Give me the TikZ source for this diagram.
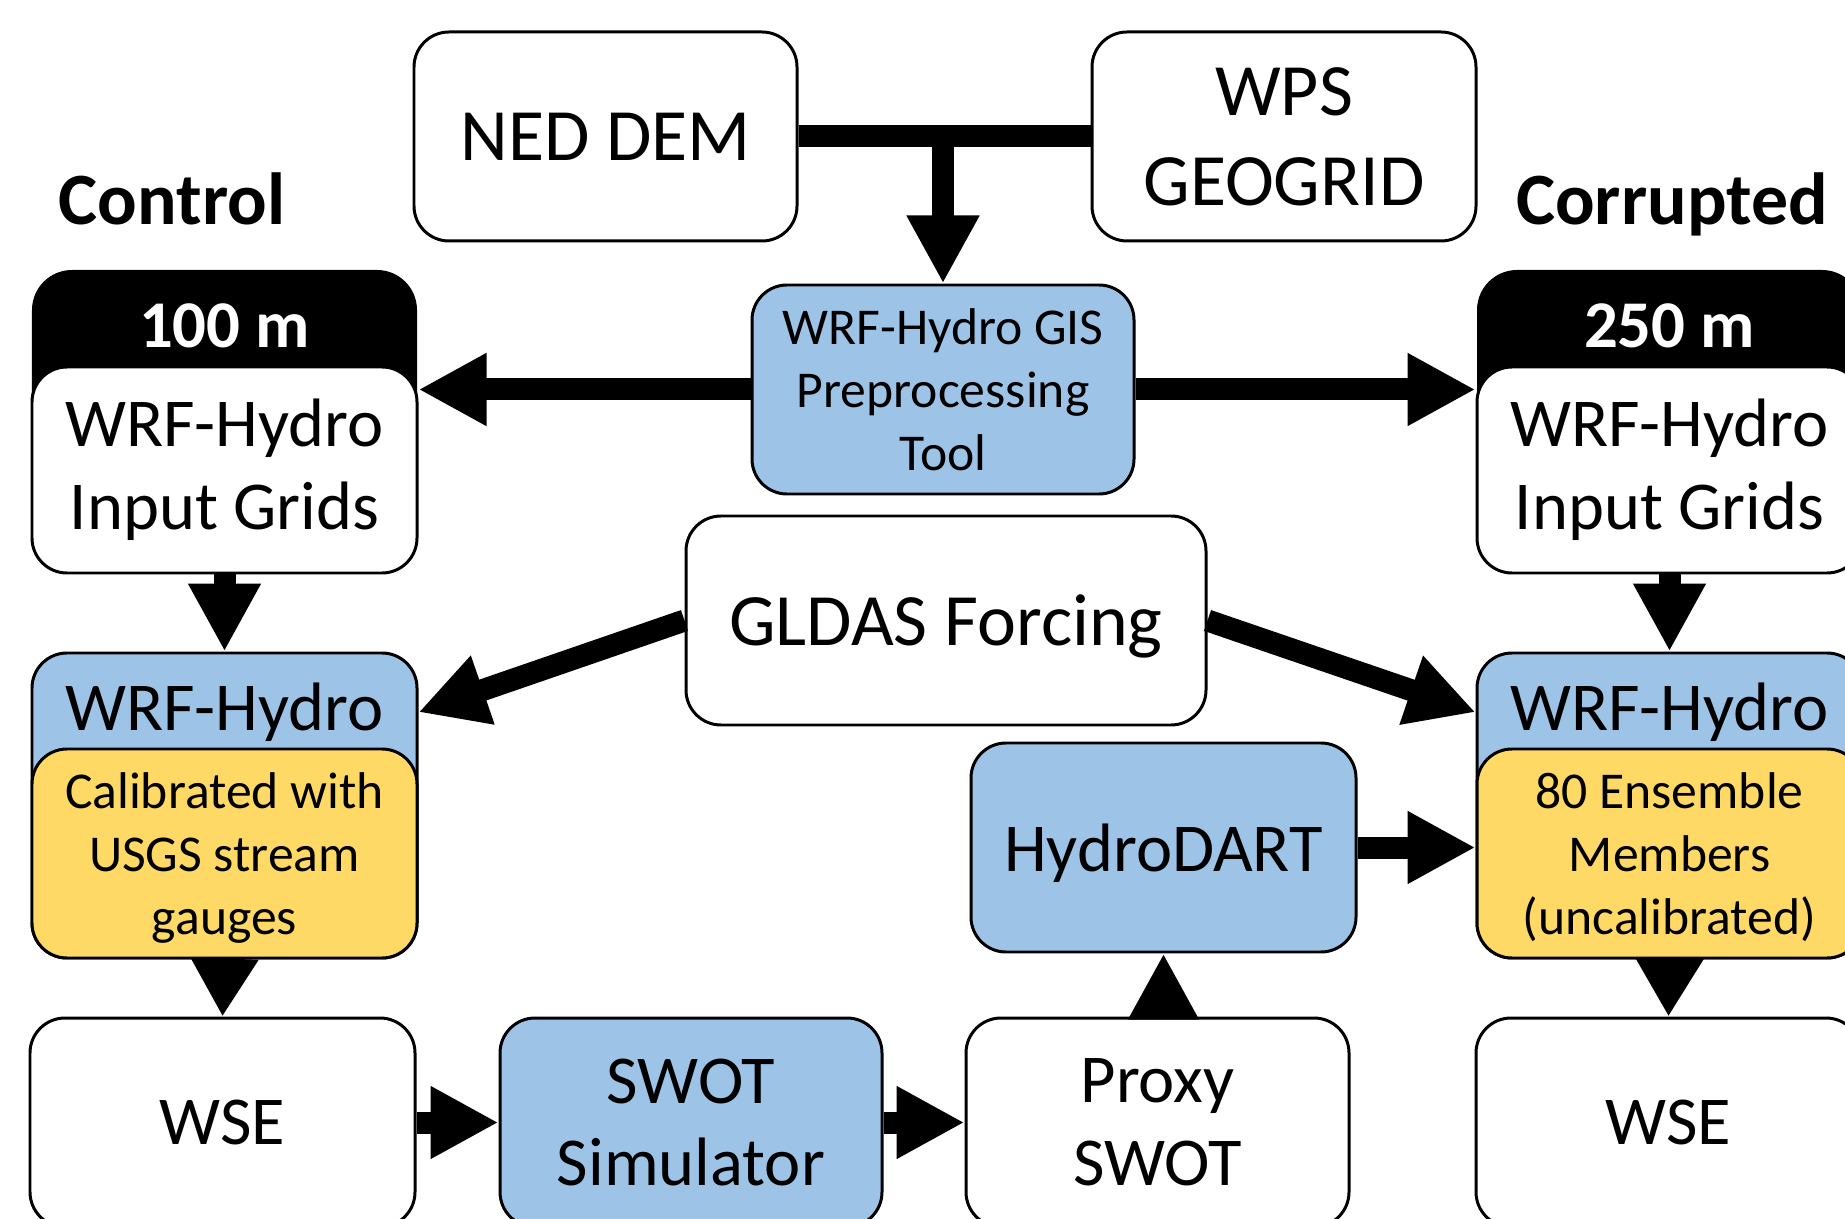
\documentclass[tikz,border=0pt]{standalone}
\usepackage{fontspec}
\setmainfont{Carlito}
\usetikzlibrary{arrows.meta}
\definecolor{hydroblue}{HTML}{9DC3E6}
\definecolor{hydrogold}{HTML}{FFD966}

\begin{document}
\begin{tikzpicture}[
		box/.style={draw, line width=0.85pt, rounded corners=0.35cm, fill=white,
			minimum width=3.85cm, minimum height=2.09cm, inner sep=0pt, align=center},
		hdr/.style={fill=black, rounded corners=0.4cm, minimum width=3.85cm, minimum height=2cm},
		bigtxt/.style={font=\fontsize{21}{25.6}\selectfont},
		midtxt/.style={font=\fontsize{19.5}{23.5}\selectfont},
		smalltxt/.style={font=\fontsize{14.7}{17.9}\selectfont},
		hdrtxt/.style={font=\fontsize{19}{23}\selectfont\bfseries, text=white, anchor=base},
		sidetxt/.style={font=\fontsize{21}{25}\selectfont\bfseries, anchor=base},
		flow/.style={line width=0.22cm, -{Triangle[length=6.8mm, width=6.8mm]}},
		flowshort/.style={line width=0.22cm, -{Triangle[length=5.8mm, width=6.4mm]}}]
		\path[use as bounding box, clip] (0,0) rectangle (18.45,-12.19);
		%
		\node[box, bigtxt, minimum width=3.83cm] (ned) at (6.055,-1.365) {NED DEM};
		\node[box, bigtxt, minimum width=3.84cm] (wps) at (12.84,-1.365) {WPS\\GEOGRID};
		\node[box, smalltxt, fill=hydroblue, minimum width=3.82cm, text depth=-0.2em] (gis) at (9.43,-3.895) {WRF-Hydro GIS\\Preprocessing\\Tool};
		%
		\node[sidetxt] (ctrl) at (1.72,-2.25) {Control};
		\node[sidetxt] (corr) at (16.72,-2.25) {Corrupted};
		%
		\node[hdr] (hdr100) at (2.245,-3.70) {};
		\node[hdrtxt] (t100) at (2.245,-3.48) {100 m};
		\node[box, midtxt, minimum height=2.06cm] (grid100) at (2.245,-4.70) {WRF-Hydro\\Input Grids};
		\node[hdr] (hdr250) at (16.695,-3.70) {};
		\node[hdrtxt] (t250) at (16.695,-3.48) {250 m};
		\node[box, midtxt, minimum height=2.06cm] (grid250) at (16.695,-4.70) {WRF-Hydro\\Input Grids};
		%
		\node[box, bigtxt, minimum width=5.2cm, text depth=0pt] (gldas) at (9.46,-6.205) {GLDAS Forcing};
		%
		\node[box, fill=hydroblue, minimum height=3.05cm] (wrf100) at (2.245,-8.055) {};
		\node[midtxt, anchor=base] (lbl100) at (2.245,-7.305) {WRF-Hydro};
		\node[box, smalltxt, fill=hydrogold, text depth=0pt] (cal100) at (2.245,-8.535) {Calibrated with\\USGS stream\\gauges};
		\node[box, fill=hydroblue, minimum height=3.05cm] (wrf250) at (16.695,-8.055) {};
		\node[midtxt, anchor=base] (lbl250) at (16.695,-7.305) {WRF-Hydro};
		\node[box, smalltxt, fill=hydrogold, text depth=0pt] (ens250) at (16.695,-8.535) {80 Ensemble\\Members\\(uncalibrated)};
		%
		\node[box, midtxt, fill=hydroblue, text depth=0pt] (dart) at (11.635,-8.475) {HydroDART};
		%
		\node[box, midtxt] (wse100) at (2.225,-11.225) {WSE};
		\node[box, midtxt, fill=hydroblue, minimum width=3.82cm] (swot) at (6.91,-11.225) {SWOT\\Simulator};
		\node[box, midtxt, minimum width=3.83cm] (proxy) at (11.575,-11.225) {Proxy\\SWOT};
		\node[box, midtxt] (wse250) at (16.685,-11.225) {WSE};
		%
		\draw[line width=0.22cm] (ned.east) -- (wps.west);
		\draw[flow] (ned.east -| gis.north) -- (gis.north);
		\draw[flow] (gis.west) -- (gis.west -| grid100.east);
		\draw[flow] (gis.east) -- (gis.east -| grid250.west);
		\draw[flow] (grid100.south) -- (wrf100.north);
		\draw[flow] (grid250.south) -- (wrf250.north);
		\draw[flow] (gldas.west) -- (wrf100.east |- lbl100.center);
		\draw[flow] (gldas.east) -- (wrf250.west |- lbl250.center);
		\draw[flow] (dart.east) -- (dart.east -| ens250.west);
		\draw[flowshort] (wrf100.south) -- (wse100.north);
		\draw[flowshort] (wrf250.south) -- (wse250.north);
		\draw[flow] (wse100.east) -- (swot.west);
		\draw[flow] (swot.east) -- (proxy.west);
		\draw[flowshort, -{Triangle[length=6.6mm, width=6.6mm]}] (dart.south |- proxy.north) -- (dart.south);
	\end{tikzpicture}
\end{document}
